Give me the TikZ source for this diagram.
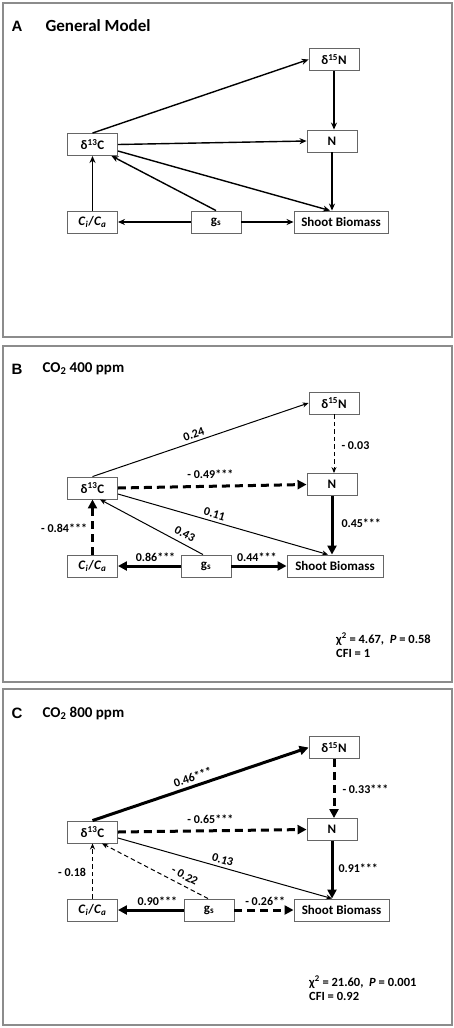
\documentclass[tikz,border=0pt]{standalone}
\usepackage{fontspec}
\setmainfont{Carlito}
\newfontfamily\letterfont{Liberation Sans}
\usetikzlibrary{arrows.meta,calc}
\newcommand\cica{\textit{C}\textsubscript{\textit{i}}/\textit{C}\textsubscript{\textit{a}}}
\begin{document}
\begin{tikzpicture}[x=1pt,y=-1pt,
  box/.style={draw=black!60, line width=0.9pt, fill=white, minimum height=22pt, minimum width=50pt, inner sep=1pt, font=\fontsize{13}{15}\selectfont\bfseries},
  panel/.style={draw=black!45, line width=1.4pt},
  thinarr/.style={line width=1pt, -{Stealth[length=6pt,width=5pt]}},
  midarr/.style={line width=1.4pt, -{Stealth[length=7pt,width=6pt]}},
  thickarr/.style={line width=3pt, -{Triangle[length=9pt,width=9pt]}},
  thindash/.style={thinarr, dash pattern=on 4.5pt off 3pt},
  thickdash/.style={thickarr, dash pattern=on 8pt off 5pt},
  lab/.style={font=\fontsize{12}{14}\selectfont\bfseries, inner sep=1pt},
  letter/.style={font=\letterfont\fontsize{15}{17}\selectfont\bfseries},
  ttl/.style={font=\fontsize{17}{19}\selectfont\bfseries, anchor=west},
  ttlb/.style={font=\fontsize{15}{17}\selectfont\bfseries, anchor=west},
  stats/.style={font=\fontsize{12.5}{14.5}\selectfont\bfseries, align=left, anchor=north west, inner sep=0pt}
]
\useasboundingbox (0,0) rectangle (454,1028);
\fill[white] (0,0) rectangle (454,1028);

% ---------------- Panel A ----------------
\draw[panel] (3,3) rectangle (452,337);
\node[letter] (tA) at (17,26) {A};
\node[ttl] (tAt) at (42,26) {General Model};
\node[box] (a15) at (334,59.5) {δ\textsuperscript{15}N};
\node[box] (aN) at (332,141) {N};
\node[box] (a13) at (92.5,144.5) {δ\textsuperscript{13}C};
\node[box] (aci) at (92.5,222) {\cica};
\node[box] (ags) at (216,222) {g\textsubscript{s}};
\node[box, minimum width=94pt] (asb) at (341,222) {Shoot Biomass};
\draw[midarr] (a13.north) -- (a15.west);
\draw[midarr] (a15.south) -- (a15.south |- aN.north);
\draw[midarr] (a13.east) -- (aN.west);
\draw[midarr] ([yshift=-6.5pt]a13.east) -- ([xshift=-11pt]asb.north);
\draw[midarr] (ags.north) -- ([xshift=19pt]a13.south);
\draw[midarr] (aci.north) -- (a13.south);
\draw[midarr] (ags.west) -- (aci.east);
\draw[midarr] (ags.east) -- (asb.west);
\draw[midarr] (aN.south) -- (aN.south |- asb.north);

% ---------------- Panel B ----------------
\draw[panel] (3,346) rectangle (452,682);
\node[letter] (tB) at (17,369) {B};
\node[ttlb] (tBt) at (39,369) {CO\textsubscript{2} 400 ppm};
\node[box] (b15) at (334,403) {δ\textsuperscript{15}N};
\node[box] (bN) at (332,484.5) {N};
\node[box] (b13) at (92.5,488) {δ\textsuperscript{13}C};
\node[box] (bci) at (92.5,566) {\cica};
\node[box] (bgs) at (206,566) {g\textsubscript{s}};
\node[box, minimum width=96pt] (bsb) at (335,566) {Shoot Biomass};
\draw[thinarr] (b13.north) -- node[lab,sloped,above=2pt,pos=.48]{0.24} (b15.west);
\draw[thindash] (b15.south) -- node[lab,right=6pt,pos=.54]{- 0.03} (b15.south |- bN.north);
\draw[thickdash] (b13.east) -- node[lab,above=5pt,pos=.49]{- 0.49***} (bN.west);
\draw[thinarr] ([yshift=-6pt]b13.east) -- node[lab,sloped,above=2pt,pos=.45]{0.11} ([xshift=-7pt]bsb.north);
\draw[thinarr] ([xshift=-3pt]bgs.north) -- node[lab,sloped,above=4pt,pos=.22]{0.43} ([xshift=7.5pt]b13.south);
\draw[thickdash] (bci.north) -- node[lab,left=3pt,pos=.48]{- 0.84***} (b13.south);
\draw[thickarr] (bgs.west) -- node[lab,above=2pt,pos=.4]{0.86***} (bci.east);
\draw[thickarr] (bgs.east) -- node[lab,above=2pt,pos=.46]{0.44***} (bsb.west);
\draw[thickarr] (bN.south) -- node[lab,right=7pt,pos=.47]{0.45***} (bN.south |- bsb.north);
\node[stats] (bst) at (336,633) {χ\textsuperscript{2} = 4.67,\ \ \textit{P} = 0.58\\CFI = 1};

% ---------------- Panel C ----------------
\draw[panel] (3,689) rectangle (452,1025);
\node[letter] (tC) at (17,713) {C};
\node[ttlb] (tCt) at (39,713) {CO\textsubscript{2} 800 ppm};
\node[box] (c15) at (334,747.5) {δ\textsuperscript{15}N};
\node[box] (cN) at (332,829.5) {N};
\node[box] (c13) at (92.5,832) {δ\textsuperscript{13}C};
\node[box] (cci) at (92.5,910) {\cica};
\node[box] (cgs) at (209,910) {g\textsubscript{s}};
\node[box, minimum width=95pt] (csb) at (341.5,910) {Shoot Biomass};
\draw[thickarr] (c13.north) -- node[lab,sloped,above=2pt,pos=.477]{0.46***} (c15.west);
\draw[thickdash] (c15.south) -- node[lab,right=6pt,pos=.51]{- 0.33***} (c15.south |- cN.north);
\draw[thickdash] (c13.east) -- node[lab,above=5pt,pos=.49]{- 0.65***} (cN.west);
\draw[thinarr] ([yshift=-6pt]c13.east) -- node[lab,sloped,above=2pt,pos=.48]{0.13} ([xshift=-9.5pt]csb.north);
\draw[thindash] ([xshift=-1pt]cgs.north) -- node[lab,sloped,above=4pt,pos=.26]{- 0.22} ([xshift=9.5pt]c13.south);
\draw[thindash] (cci.north) -- node[lab,left=5pt,pos=.48]{- 0.18} (c13.south);
\draw[thickarr] (cgs.west) -- node[lab,above=2pt,pos=.4]{0.90***} (cci.east);
\draw[thickdash] (cgs.east) -- node[lab,above=2pt,pos=.52]{- 0.26**} (csb.west);
\draw[thickarr] (cN.south) -- node[lab,right=4pt,pos=.47]{0.91***} (cN.south |- csb.north);
\node[stats] (cst) at (309,976) {χ\textsuperscript{2} = 21.60,\ \ \textit{P} = 0.001\\CFI = 0.92};
\end{tikzpicture}
\end{document}
